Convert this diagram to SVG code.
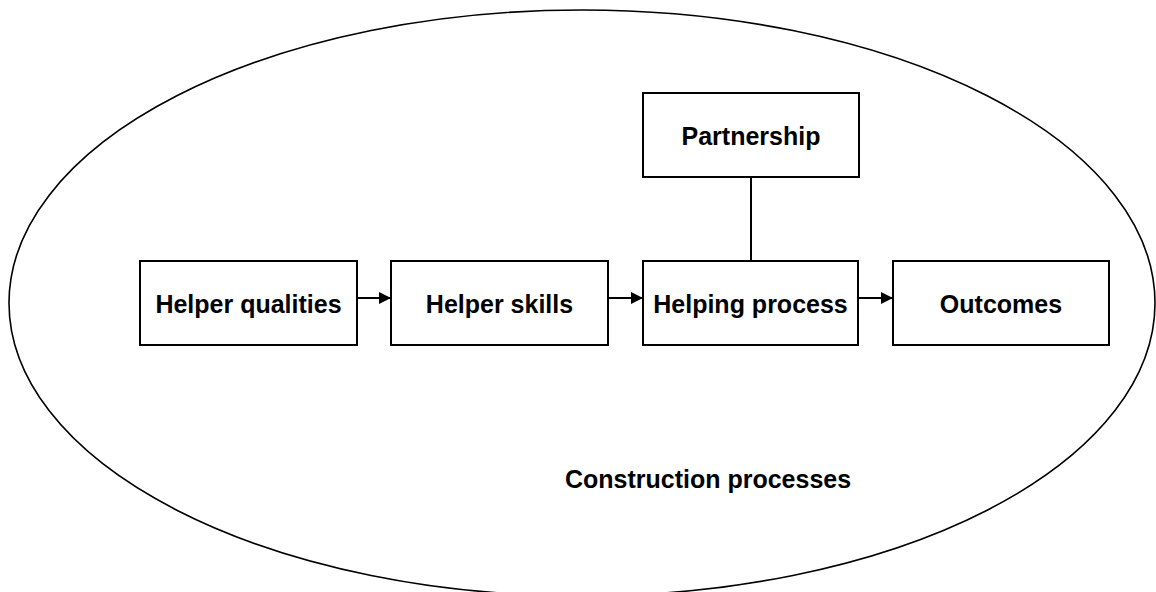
<svg xmlns="http://www.w3.org/2000/svg" width="1156" height="592" viewBox="0 0 1156 592">
<style>
.box{fill:#fff;stroke:#000;stroke-width:2}
.lbl{font-family:"Liberation Sans",Arial,sans-serif;font-weight:bold;font-size:25px;fill:#000;text-anchor:middle}
.conn{stroke:#000;stroke-width:2;fill:none}
</style>
<defs>
<marker id="arr" markerWidth="12" markerHeight="12" refX="12" refY="6" orient="auto" markerUnits="userSpaceOnUse">
<path d="M0,0 L12,6 L0,12 Z" fill="#000"/>
</marker>
</defs>
<rect width="1156" height="592" fill="#fff"/>
<g id="boundary">
<ellipse cx="582" cy="303" rx="573" ry="293" fill="none" stroke="#000" stroke-width="1.6"/>
<text class="lbl" x="708" y="488">Construction processes</text>
</g>
<g id="connectors">
<line class="conn" x1="357" y1="298" x2="391" y2="298" marker-end="url(#arr)"/>
<line class="conn" x1="608" y1="298" x2="643" y2="298" marker-end="url(#arr)"/>
<line class="conn" x1="858" y1="298" x2="893" y2="298" marker-end="url(#arr)"/>
<line class="conn" x1="751" y1="177" x2="751" y2="262"/>
</g>
<g id="helper-qualities">
<rect class="box" x="140" y="261" width="217" height="84"/>
<text class="lbl" x="248.5" y="313">Helper qualities</text>
</g>
<g id="helper-skills">
<rect class="box" x="391" y="261" width="217" height="84"/>
<text class="lbl" x="499.5" y="313">Helper skills</text>
</g>
<g id="helping-process">
<rect class="box" x="643" y="261" width="215" height="84"/>
<text class="lbl" x="750.5" y="313">Helping process</text>
</g>
<g id="outcomes">
<rect class="box" x="893" y="261" width="216" height="84"/>
<text class="lbl" x="1001" y="313">Outcomes</text>
</g>
<g id="partnership">
<rect class="box" x="643" y="93" width="216" height="84"/>
<text class="lbl" x="751" y="145">Partnership</text>
</g>
</svg>
